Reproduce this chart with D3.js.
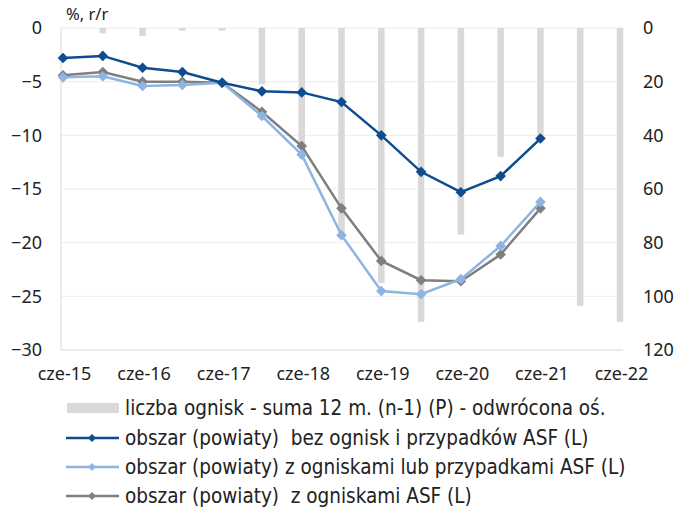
<!DOCTYPE html>
<html>
<head>
<meta charset="utf-8">
<script src="https://cdn.jsdelivr.net/npm/d3@7"></script>
<style>
  body { margin: 0; background: #fff; }
  .tick text { font-family: "Noto Sans", "Open Sans", sans-serif; font-size: 18px; fill: #222; }
  .legend text { font-family: "Liberation Sans Narrow", "DejaVu Sans Condensed", sans-serif; font-size: 20.5px; fill: #222; }
</style>
</head>
<body>
<svg id="chart" width="679" height="513"></svg>
<script>
// half-year periods, jun 2015 .. jun 2022
let periods = ["2015-06","2015-12","2016-06","2016-12","2017-06","2017-12","2018-06",
               "2018-12","2019-06","2019-12","2020-06","2020-12","2021-06","2021-12","2022-06"];
let tickPeriods = ["2015-06","2016-06","2017-06","2018-06","2019-06","2020-06","2021-06","2022-06"];
let tickLabels = ["cze-15","cze-16","cze-17","cze-18","cze-19","cze-20","cze-21","cze-22"];

// liczba ognisk (right axis, inverted)
let outbreaks = [0, 2, 3, 1, 1, 21, 44, 77, 95, 109.5, 77, 48, 41, 103.5, 109.5];
// left axis series, % r/r
let noAsf = [-2.8, -2.6, -3.7, -4.1, -5.1, -5.9, -6.0, -6.9, -10.0, -13.4, -15.3, -13.8, -10.3];
let outbreaksOrCases = [-4.6, -4.5, -5.4, -5.3, -5.1, -8.2, -11.8, -19.3, -24.5, -24.8, -23.4, -20.3, -16.2];
let withOutbreaks = [-4.4, -4.1, -5.0, -5.0, -5.1, -7.8, -11.0, -16.8, -21.7, -23.5, -23.6, -21.1, -16.8];

let leftTicks = [0, -5, -10, -15, -20, -25, -30];
let rightTicks = [0, 20, 40, 60, 80, 100, 120];

let svg = d3.select("#chart");
let plot = {left: 61, right: 623, top: 28, bottom: 350};

let x = d3.scalePoint().domain(periods).range([63, 620]);
let yL = d3.scaleLinear().domain([-30, 0]).range([plot.bottom, plot.top]);
let yR = d3.scaleLinear().domain([0, 120]).range([plot.top, plot.bottom]);

// gridlines
svg.append("g").selectAll("line")
    .data(leftTicks.filter(d => d !== -30))
    .enter().append("line")
    .attr("x1", plot.left).attr("x2", plot.right)
    .attr("y1", d => yL(d)).attr("y2", d => yL(d))
    .attr("stroke", "#ececec").attr("stroke-width", 1);

// axis frame lines
svg.append("line")
    .attr("x1", plot.left).attr("x2", plot.left)
    .attr("y1", plot.top).attr("y2", plot.bottom)
    .attr("stroke", "#d9d9d9");
svg.append("line")
    .attr("x1", plot.left).attr("x2", plot.right)
    .attr("y1", plot.bottom).attr("y2", plot.bottom)
    .attr("stroke", "#d9d9d9");

// bars (inverted right axis)
let barW = 6.5;
svg.append("g").selectAll("rect")
    .data(outbreaks.map((v, i) => ({p: periods[i], v: v})))
    .enter().append("rect")
    .attr("x", d => x(d.p) - barW / 2)
    .attr("y", yR(0))
    .attr("width", barW)
    .attr("height", d => yR(d.v) - yR(0))
    .attr("fill", "#d9d9d9");

// axes
let axisL = svg.append("g")
    .attr("transform", `translate(${plot.left},0)`)
    .call(d3.axisLeft(yL).tickValues(leftTicks).tickSize(0).tickPadding(19).tickFormat(d3.format("d")));
axisL.select(".domain").remove();

let axisR = svg.append("g")
    .attr("transform", `translate(${plot.right},0)`)
    .call(d3.axisRight(yR).tickValues(rightTicks).tickSize(0).tickPadding(20));
axisR.select(".domain").remove();

let axisX = svg.append("g")
    .attr("transform", `translate(0,${plot.bottom})`)
    .call(d3.axisBottom(x).tickValues(tickPeriods).tickSize(0).tickPadding(17)
        .tickFormat(d => tickLabels[tickPeriods.indexOf(d)]));
axisX.select(".domain").remove();
axisX.selectAll(".tick text").attr("dx", "1px");

svg.append("text")
    .attr("x", 66).attr("y", 20)
    .attr("font-family", "Noto Sans, Open Sans, sans-serif")
    .attr("font-size", 16.5).attr("fill", "#222")
    .text("%, r/r");

// lines with diamond markers
let series = [
    {values: withOutbreaks, color: "#7f7f7f"},
    {values: outbreaksOrCases, color: "#8db4e2"},
    {values: noAsf, color: "#0d4c8f"}
];
let line = d3.line().x(d => x(d.p)).y(d => yL(d.v));
let diamond = d3.symbol().type(d3.symbolDiamond2).size(72);

series.forEach(s => {
    let pts = s.values.map((v, i) => ({p: periods[i], v: v}));
    svg.append("path")
        .datum(pts)
        .attr("d", line)
        .attr("fill", "none")
        .attr("stroke", s.color)
        .attr("stroke-width", 2.5);
    svg.append("g").selectAll("path")
        .data(pts)
        .enter().append("path")
        .attr("d", diamond)
        .attr("transform", d => `translate(${x(d.p)},${yL(d.v)})`)
        .attr("fill", s.color);
});

// legend
let legendItems = [
    {type: "bar", color: "#d9d9d9", label: "liczba ognisk - suma 12 m. (n-1) (P) - odwrócona oś."},
    {type: "line", color: "#0d4c8f", label: "obszar (powiaty)  bez ognisk i przypadków ASF (L)"},
    {type: "line", color: "#8db4e2", label: "obszar (powiaty) z ogniskami lub przypadkami ASF (L)"},
    {type: "line", color: "#7f7f7f", label: "obszar (powiaty)  z ogniskami ASF (L)"}
];
let legend = svg.append("g").attr("class", "legend");
let rowY = [408, 438, 467, 496];
legendItems.forEach((it, i) => {
    let g = legend.append("g").attr("transform", `translate(0,${rowY[i]})`);
    if (it.type === "bar") {
        g.append("rect").attr("x", 67).attr("y", -5).attr("width", 52).attr("height", 10).attr("fill", it.color);
    } else {
        g.append("line").attr("x1", 66).attr("x2", 119).attr("y1", 0).attr("y2", 0)
            .attr("stroke", it.color).attr("stroke-width", 2.5);
        g.append("path").attr("d", d3.symbol().type(d3.symbolDiamond2).size(40))
            .attr("transform", "translate(92,0)").attr("fill", it.color);
    }
    g.append("text").attr("x", 125).attr("y", 0).attr("dy", "0.35em")
        .style("white-space", "pre")
        .attr("xml:space", "preserve")
        .text(it.label);
});
</script>
</body>
</html>
